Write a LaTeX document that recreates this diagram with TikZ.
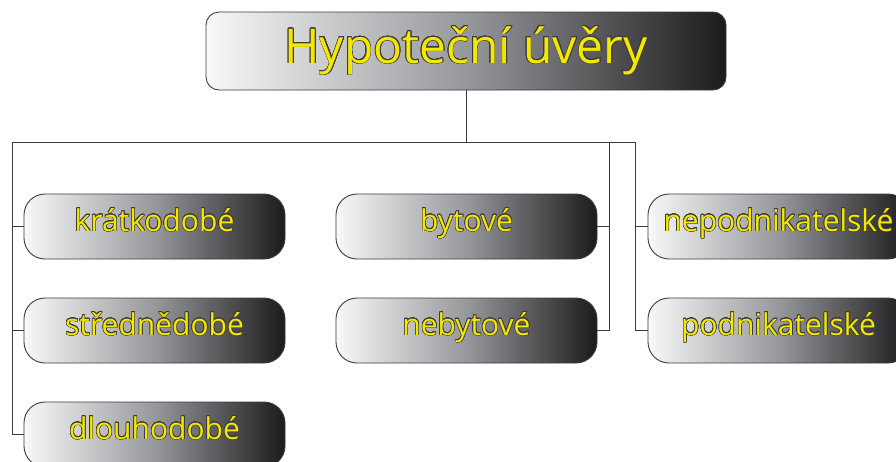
\documentclass[tikz,border=0pt]{standalone}
\usepackage{fontspec}
\setmainfont{Open Sans}
\usepackage{contour}
\contourlength{0.55pt}
\contournumber{24}
\definecolor{txtyellow}{RGB}{245,232,0}
\definecolor{edgegray}{RGB}{60,60,60}
\definecolor{gradmid}{RGB}{150,152,156}
\definecolor{gradright}{RGB}{28,26,28}
\definecolor{gradleft}{RGB}{248,248,248}
\tikzset{
  boxbase/.style={draw=edgegray, line width=0.9pt, left color=gradleft, right color=gradright, middle color=gradmid, text=txtyellow, inner sep=0pt},
  titlebox/.style={boxbase, rounded corners=13pt, minimum width=520pt, minimum height=78pt, text height=40pt, text depth=16pt, font=\fontsize{48}{52}\selectfont},
  catbox/.style={boxbase, rounded corners=21pt, minimum width=261pt, minimum height=65pt, text height=22pt, text depth=13pt, font=\fontsize{30}{34}\selectfont},
  conn/.style={draw=edgegray, line width=0.9pt}
}
\newcommand{\otext}[1]{\contour{edgegray}{#1}}
\begin{document}
\begin{tikzpicture}[x=1pt,y=-1pt]
\useasboundingbox (0,0) rectangle (896,461);
\clip (0,0) rectangle (896,461);
\coordinate (hl) at (12,142);
\coordinate (hm) at (609,142);
\coordinate (hr) at (635,142);
\node[titlebox] (T) at (466,51) {\otext{Hypoteční úvěry}};
\node[catbox] (c1) at (154.5,226.5) {\otext{krátkodobé}};
\node[catbox] (c2) at (154.5,330.5) {\otext{střednědobé}};
\node[catbox] (c3) at (154.5,434.5) {\otext{dlouhodobé}};
\node[catbox] (b1) at (466.5,226.5) {\otext{bytové}};
\node[catbox] (b2) at (466.5,330.5) {\otext{nebytové}};
\node[catbox] (p1) at (778.5,226.5) {\otext{nepodnikatelské}};
\node[catbox] (p2) at (778.5,330.5) {\otext{podnikatelské}};
\draw[conn] (T.south) -- (T.south |- hl);
\draw[conn] (hl) -- (hr);
\draw[conn] (hl) |- (c3.west);
\draw[conn] (hl |- c1.west) -- (c1.west);
\draw[conn] (hl |- c2.west) -- (c2.west);
\draw[conn] (hm) |- (b2.east);
\draw[conn] (b1.east) -- (b1.east -| hm);
\draw[conn] (hr) |- (p2.west);
\draw[conn] (hr |- p1.west) -- (p1.west);
\end{tikzpicture}
\end{document}
